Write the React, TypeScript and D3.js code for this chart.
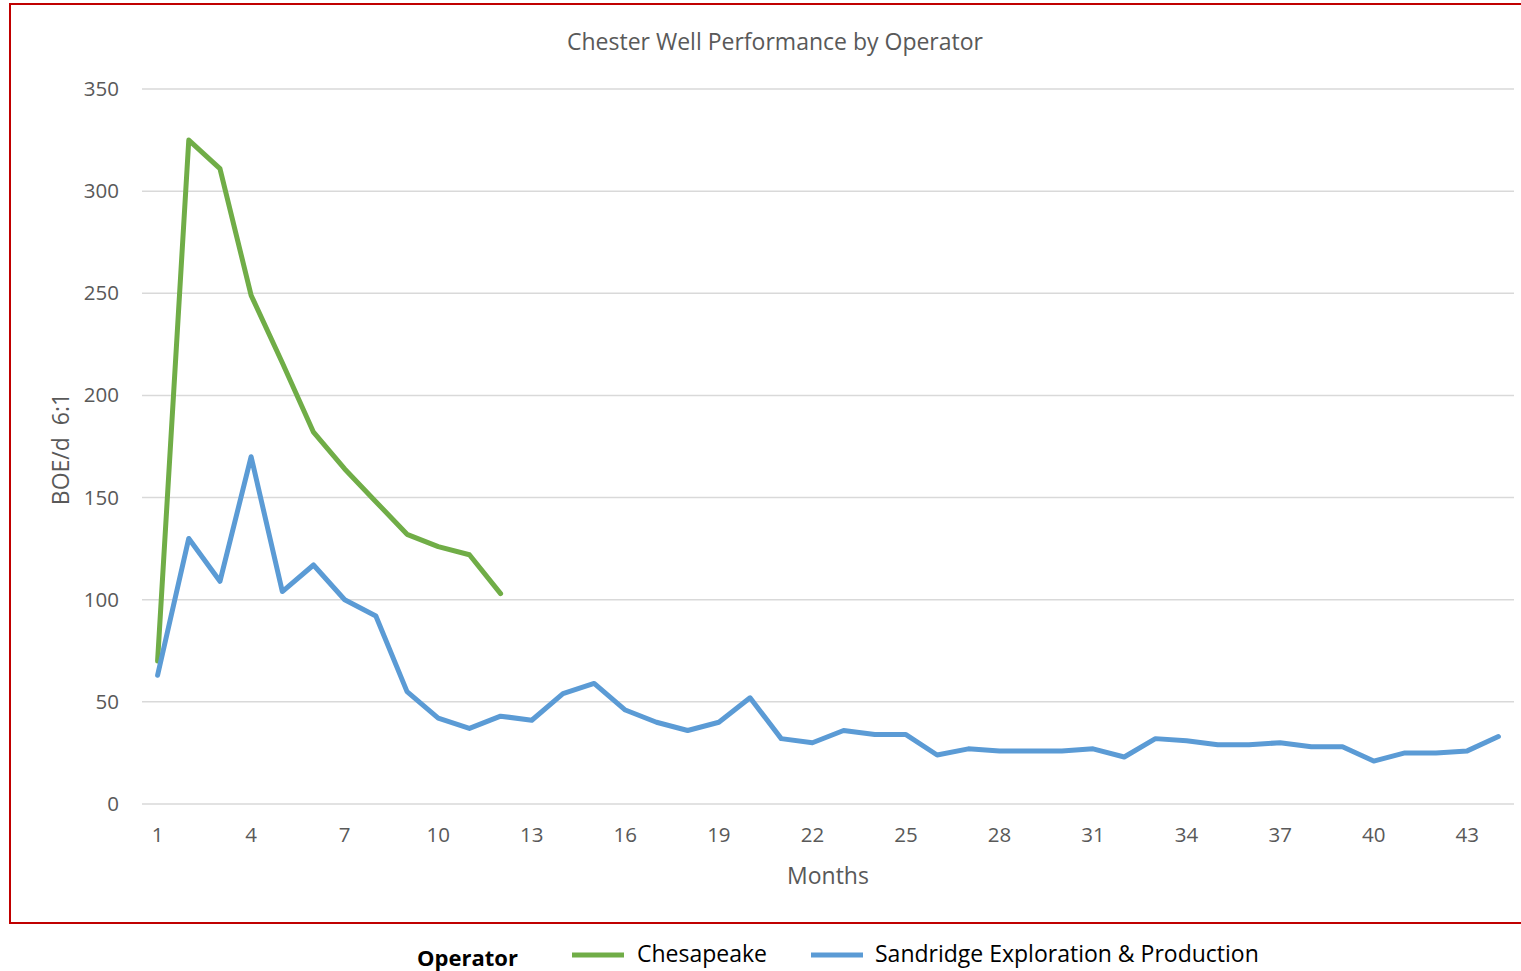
import React from "react";
import * as d3 from "d3";

const months: number[] = Array.from({ length: 44 }, (_, i) => i + 1);
const chesapeake: number[] = [70, 325, 311, 249, 216, 182, 164, 148, 132, 126, 122, 103];
const sandridge: number[] = [
  63, 130, 109, 170, 104, 117, 100, 92, 55, 42, 37, 43, 41, 54, 59, 46, 40, 36, 40, 52,
  32, 30, 36, 34, 34, 24, 27, 26, 26, 26, 27, 23, 32, 31, 29, 29, 30, 28, 28, 21,
  25, 25, 26, 33,
];
const yTicks: number[] = [0, 50, 100, 150, 200, 250, 300, 350];
const xTickMonths: number[] = [1, 4, 7, 10, 13, 16, 19, 22, 25, 28, 31, 34, 37, 40, 43];
const seriesNames: string[] = ["Chesapeake", "Sandridge Exploration & Production"];
const seriesColors: string[] = ["#70ad47", "#5b9bd5"];

const W = 1521;
const H = 971;
const left = 142;
const right = 1514;
const top = 89;
const bottom = 804;
const FONT = "'Open Sans', sans-serif";

export default function App() {
  const x = d3.scaleBand<number>().domain(months).range([left, right]).padding(0);
  const cx = (m: number) => (x(m) as number) + x.bandwidth() / 2;
  const y = d3.scaleLinear().domain([0, 350]).range([bottom, top]);
  const line = d3
    .line<number>()
    .x((_, i) => cx(months[i]))
    .y((d) => y(d));

  return (
    <svg
      width={W}
      height={H}
      style={{ position: "absolute", left: 0, top: 0, background: "#fff" }}
      fontFamily={FONT}
    >
      <rect x={0} y={0} width={W} height={H} fill="#fff" />
      <rect x={10} y={4} width={W + 20} height={919} fill="none" stroke="#c00000" strokeWidth={2} />
      <text x={775} y={50} textAnchor="middle" fontSize={23} fill="#595959">
        Chester Well Performance by Operator
      </text>
      {yTicks.map((t) => (
        <g key={t}>
          <line x1={left} x2={right} y1={y(t)} y2={y(t)} stroke="#d9d9d9" strokeWidth={1.5} />
          <text x={119} y={y(t) + 7} textAnchor="end" fontSize={20.5} fill="#595959">
            {t}
          </text>
        </g>
      ))}
      {xTickMonths.map((m) => (
        <text key={m} x={cx(m)} y={842} textAnchor="middle" fontSize={20.5} fill="#595959">
          {m}
        </text>
      ))}
      <text x={(left + right) / 2} y={884} textAnchor="middle" fontSize={23} fill="#595959">
        Months
      </text>
      <text
        transform={`translate(69, ${449}) rotate(-90)`}
        textAnchor="middle"
        fontSize={23}
        fill="#595959"
        style={{ whiteSpace: "pre" }}
      >
        {"BOE/d  6:1"}
      </text>
      <path d={line(chesapeake) || ""} fill="none" stroke={seriesColors[0]} strokeWidth={5} strokeLinejoin="round" strokeLinecap="round" />
      <path d={line(sandridge) || ""} fill="none" stroke={seriesColors[1]} strokeWidth={5} strokeLinejoin="round" strokeLinecap="round" />
      <text x={417} y={966} fontSize={22} fontWeight="bold" fill="#000">
        Operator
      </text>
      <line x1={572} x2={624} y1={955} y2={955} stroke={seriesColors[0]} strokeWidth={5} />
      <text x={637} y={962} fontSize={23} fill="#000">
        {seriesNames[0]}
      </text>
      <line x1={811} x2={863} y1={955} y2={955} stroke={seriesColors[1]} strokeWidth={5} />
      <text x={875} y={962} fontSize={23} fill="#000">
        {seriesNames[1]}
      </text>
    </svg>
  );
}
